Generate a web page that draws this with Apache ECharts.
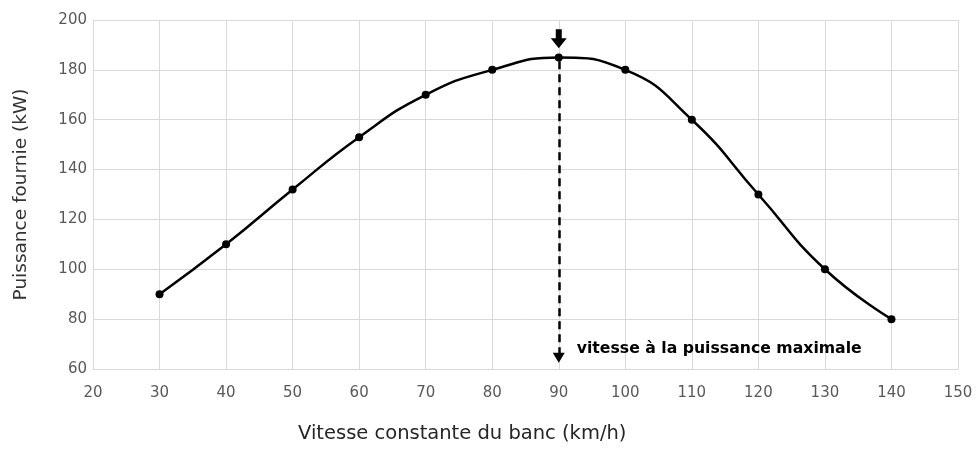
<!DOCTYPE html>
<html>
<head>
<meta charset="utf-8">
<script src="https://cdn.jsdelivr.net/npm/echarts@6/dist/echarts.min.js"></script>
<style>
  html, body { margin: 0; padding: 0; background: #fff; }
  #chart { width: 976px; height: 449px; }
</style>
</head>
<body>
<div id="chart"></div>
<script>
// vitesse du banc (km/h) et puissance fournie (kW)
const vitesses = [30, 40, 50, 60, 70, 80, 90, 100, 110, 120, 130, 140]
const puissances = [90, 110, 132, 153, 170, 180, 185, 180, 160, 130, 100, 80]
// point de puissance maximale
const vitesseMax = 90
const puissanceMax = 185

const chart = echarts.init(document.getElementById('chart'))
const font = '"DejaVu Sans", "Noto Sans", sans-serif'

const option = {
    animation: false,
    grid: { left: 93, right: 18, top: 20, bottom: 80 },
    xAxis: {
        type: 'value',
        min: 20,
        max: 150,
        interval: 10,
        axisLine: { show: true, lineStyle: { color: '#d9d9d9' } },
        axisTick: { show: false },
        splitLine: { lineStyle: { color: '#d9d9d9' } },
        axisLabel: { color: '#595959', fontSize: 15, fontFamily: font, margin: 17 },
    },
    yAxis: {
        type: 'value',
        min: 60,
        max: 200,
        interval: 20,
        name: 'Puissance fournie (kW)',
        nameLocation: 'middle',
        nameGap: 62,
        nameTextStyle: { color: '#333', fontSize: 18.5, fontFamily: font },
        axisLine: { show: true, lineStyle: { color: '#d9d9d9' } },
        axisTick: { show: false },
        splitLine: { lineStyle: { color: '#d9d9d9' } },
        axisLabel: { color: '#595959', fontSize: 15, fontFamily: font, margin: 6 },
    },
    graphic: [
        {
            type: 'text',
            left: 298,
            top: 424,
            style: {
                text: 'Vitesse constante du banc (km/h)',
                fill: '#262626',
                font: '19.5px ' + font,
            },
        },
    ],
    series: [
        {
            type: 'line',
            data: vitesses.map((v, i) => [v, puissances[i]]),
            smooth: 0.5,
            symbol: 'circle',
            symbolSize: 8,
            lineStyle: { color: '#000', width: 2.5 },
            itemStyle: { color: '#000' },
            z: 3,
            markLine: {
                silent: true,
                symbol: ['none', 'triangle'],
                symbolSize: [12, 10],
                symbolRotate: 180,
                lineStyle: { color: '#000', type: [8, 5], width: 2.5 },
                label: { show: false },
                data: [[{ coord: [vitesseMax, puissanceMax - 1.5] }, { coord: [vitesseMax, 64.5] }]],
            },
            markPoint: {
                silent: true,
                data: [
                    {
                        coord: [vitesseMax, 192.5],
                        symbol: 'path://M3,0 L9,0 L9,9 L14,9 L6,19 L-2,9 L3,9 Z',
                        symbolSize: [16, 19],
                        itemStyle: { color: '#000' },
                        label: { show: false },
                    },
                    {
                        coord: [vitesseMax + 2.7, 68],
                        symbol: 'circle',
                        symbolSize: 0,
                        label: {
                            show: true,
                            position: 'right',
                            distance: 0,
                            formatter: 'vitesse à la puissance maximale',
                            color: '#000',
                            fontSize: 15.7,
                            fontWeight: 'bold',
                            fontFamily: font,
                        },
                    },
                ],
            },
        },
    ],
}
chart.setOption(option)
</script>
</body>
</html>
